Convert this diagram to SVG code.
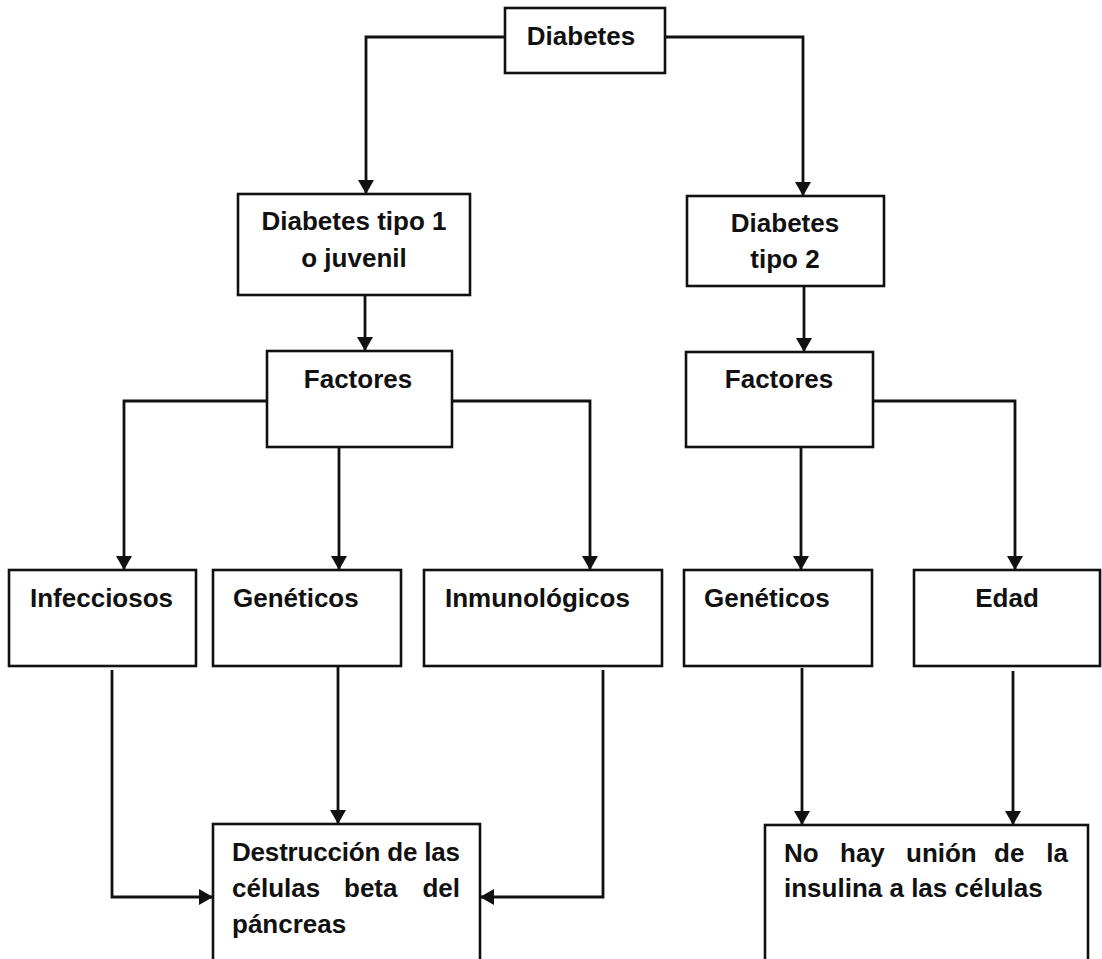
<svg xmlns="http://www.w3.org/2000/svg" width="1102" height="959" viewBox="0 0 1102 959">
<style>
.box{fill:#fff;stroke:#111;stroke-width:2.6}
.t{font-family:"Liberation Sans",Arial,sans-serif;font-weight:bold;font-size:26px;fill:#111}
.c{text-anchor:middle}
.e{text-anchor:end}
.ln{fill:none;stroke:#111;stroke-width:2.8}
</style>
<defs>
<marker id="ah" viewBox="0 0 14 16" refX="14" refY="8" markerWidth="14" markerHeight="16" markerUnits="userSpaceOnUse" orient="auto">
<path d="M0,0 L14,8 L0,16 z" fill="#111"/>
</marker>
</defs>
<rect width="1102" height="959" fill="#fff"/>
<g id="connectors">
<path class="ln" d="M505,37 H366 V194" marker-end="url(#ah)"/>
<path class="ln" d="M665,37 H803 V196" marker-end="url(#ah)"/>
<path class="ln" d="M365,295 V351" marker-end="url(#ah)"/>
<path class="ln" d="M804,286 V352" marker-end="url(#ah)"/>
<path class="ln" d="M267,401 H124 V570" marker-end="url(#ah)"/>
<path class="ln" d="M339,447 V570" marker-end="url(#ah)"/>
<path class="ln" d="M452,401 H590 V570" marker-end="url(#ah)"/>
<path class="ln" d="M801,447 V570" marker-end="url(#ah)"/>
<path class="ln" d="M873,401 H1015 V570" marker-end="url(#ah)"/>
<path class="ln" d="M112,670 V897 H213" marker-end="url(#ah)"/>
<path class="ln" d="M338,667 V824" marker-end="url(#ah)"/>
<path class="ln" d="M603,670 V897 H480" marker-end="url(#ah)"/>
<path class="ln" d="M802,668 V825" marker-end="url(#ah)"/>
<path class="ln" d="M1013,671 V825" marker-end="url(#ah)"/>
</g>
<g id="diabetes">
<rect class="box" x="505" y="8" width="160" height="65"/>
<text class="t c" x="581" y="45">Diabetes</text>
</g>
<g id="tipo1">
<rect class="box" x="238" y="194" width="232" height="101"/>
<text class="t c" x="354" y="230">Diabetes tipo 1</text>
<text class="t c" x="354" y="267">o juvenil</text>
</g>
<g id="tipo2">
<rect class="box" x="687" y="196" width="197" height="90"/>
<text class="t c" x="785" y="232">Diabetes</text>
<text class="t c" x="785" y="268">tipo 2</text>
</g>
<g id="factores1">
<rect class="box" x="267" y="351" width="185" height="96"/>
<text class="t c" x="358" y="388">Factores</text>
</g>
<g id="factores2">
<rect class="box" x="686" y="352" width="187" height="95"/>
<text class="t c" x="779" y="388">Factores</text>
</g>
<g id="infecciosos">
<rect class="box" x="9" y="570" width="187" height="96"/>
<text class="t" x="30" y="607">Infecciosos</text>
</g>
<g id="geneticos1">
<rect class="box" x="213" y="570" width="188" height="96"/>
<text class="t" x="233" y="607">Genéticos</text>
</g>
<g id="inmunologicos">
<rect class="box" x="424" y="570" width="238" height="96"/>
<text class="t" x="445" y="607">Inmunológicos</text>
</g>
<g id="geneticos2">
<rect class="box" x="684" y="570" width="188" height="96"/>
<text class="t" x="704" y="607">Genéticos</text>
</g>
<g id="edad">
<rect class="box" x="914" y="570" width="186" height="96"/>
<text class="t c" x="1007" y="607">Edad</text>
</g>
<g id="destruccion">
<rect class="box" x="213" y="824" width="267" height="150"/>
<text class="t" x="232" y="861" textLength="228" lengthAdjust="spacing">Destrucción de las</text>
<text class="t" x="232" y="897">células</text>
<text class="t" x="344" y="897">beta</text>
<text class="t e" x="460" y="897">del</text>
<text class="t" x="232" y="933">páncreas</text>
</g>
<g id="nohay">
<rect class="box" x="765" y="825" width="323" height="150"/>
<text class="t" x="784" y="862">No</text>
<text class="t" x="840" y="862">hay</text>
<text class="t" x="906" y="862">unión</text>
<text class="t" x="994" y="862">de</text>
<text class="t e" x="1068" y="862">la</text>
<text class="t" x="784" y="897">insulina a las células</text>
</g>
</svg>
